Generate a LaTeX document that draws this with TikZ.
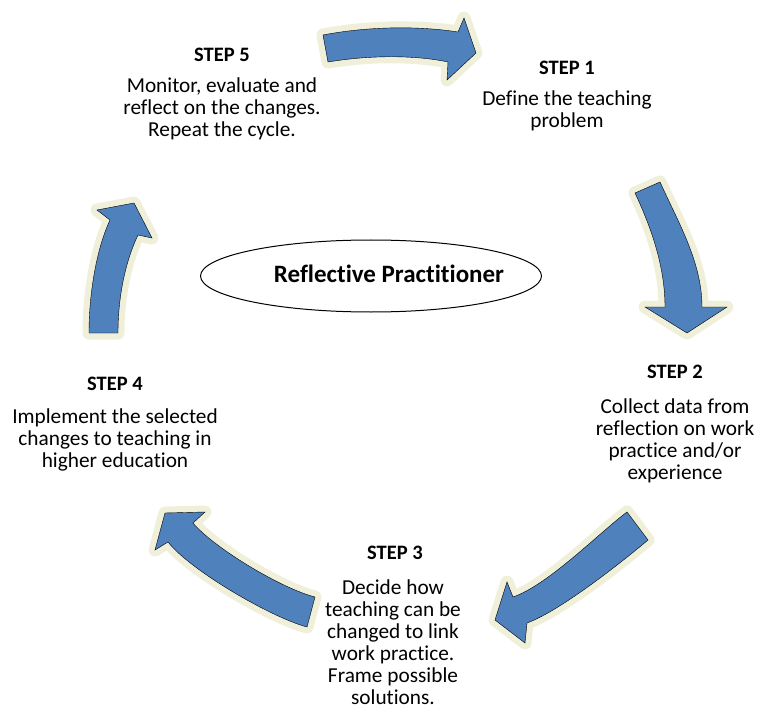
\documentclass[tikz,border=0pt]{standalone}
\usepackage{fontspec}
\setmainfont{Carlito}[Ligatures=NoCommon]
\usetikzlibrary{shapes.geometric}
\definecolor{stepblue}{RGB}{79,129,189}
\definecolor{stepcream}{RGB}{240,239,218}

\begin{document}
\begin{tikzpicture}[x=1pt, y=-1pt,
    blockarrow/.style={fill=stepblue, preaction={draw=stepcream, line width=13pt, line join=round}},
    steptitle/.style={font=\fontsize{20.5}{22}\selectfont\bfseries},
    steptext/.style={font=\fontsize{21.3}{22}\selectfont, align=center}]
    \useasboundingbox (0,0) rectangle (757,711);

    \draw [blockarrow] (323,35) .. controls (370,26) and (420,26) .. (458,32) -- (464,18) -- (476,53)
        -- (447,80) -- (448,62) .. controls (415,55) and (370,55) .. (328,62) -- cycle;
    \draw [blockarrow] (635,193) -- (660,182) .. controls (678,222) and (702,262) .. (702,307) -- (727,307)
        -- (687,333) -- (645,307) -- (665,307) .. controls (665,265) and (650,225) .. (635,193) -- cycle;
    \draw [blockarrow] (627,512) .. controls (599,533) and (548,585) .. (513,597) -- (507,582) -- (495,620)
        -- (525,643) -- (527,623) .. controls (560,611) and (622,562) .. (648,540) -- cycle;
    \draw [blockarrow] (315,597) .. controls (280,588) and (213,547) .. (193,523) -- (205,512) -- (165,513)
        -- (155,550) -- (168,542) .. controls (190,570) and (270,617) .. (307,627) -- cycle;
    \draw [blockarrow] (89,333) .. controls (89,295) and (96,250) .. (110,220) -- (97,210) -- (134,203)
        -- (152,238) -- (138,235) .. controls (126,260) and (118,295) .. (118,333) -- cycle;

    \node [ellipse, draw, line width=1pt, minimum width=341pt, minimum height=72pt] (rp) at (371,276) {};
    \node [font=\fontsize{25}{27}\selectfont\bfseries] (rplabel) at (389,274) {Reflective Practitioner};

    \node [steptitle] (t1) at (567,68) {STEP 1};
    \node [steptext] (b1) at (567,111) {Define the teaching\\problem};

    \node [steptitle] (t2) at (675,372) {STEP 2};
    \node [steptext] (b2) at (675,441) {Collect data from\\reflection on work\\practice and/or\\experience};

    \node [steptitle] (t3) at (395,553) {STEP 3};
    \node [steptext] (b3) at (393,642) {Decide how\\teaching can be\\changed to link\\work practice.\\Frame possible\\solutions.};

    \node [steptitle] (t4) at (115,384) {STEP 4};
    \node [steptext] (b4) at (115,440) {Implement the selected\\changes to teaching in\\higher education};

    \node [steptitle] (t5) at (222,55) {STEP 5};
    \node [steptext] (b5) at (222,109) {Monitor, evaluate and\\reflect on the changes.\\Repeat the cycle.};
\end{tikzpicture}
\end{document}
